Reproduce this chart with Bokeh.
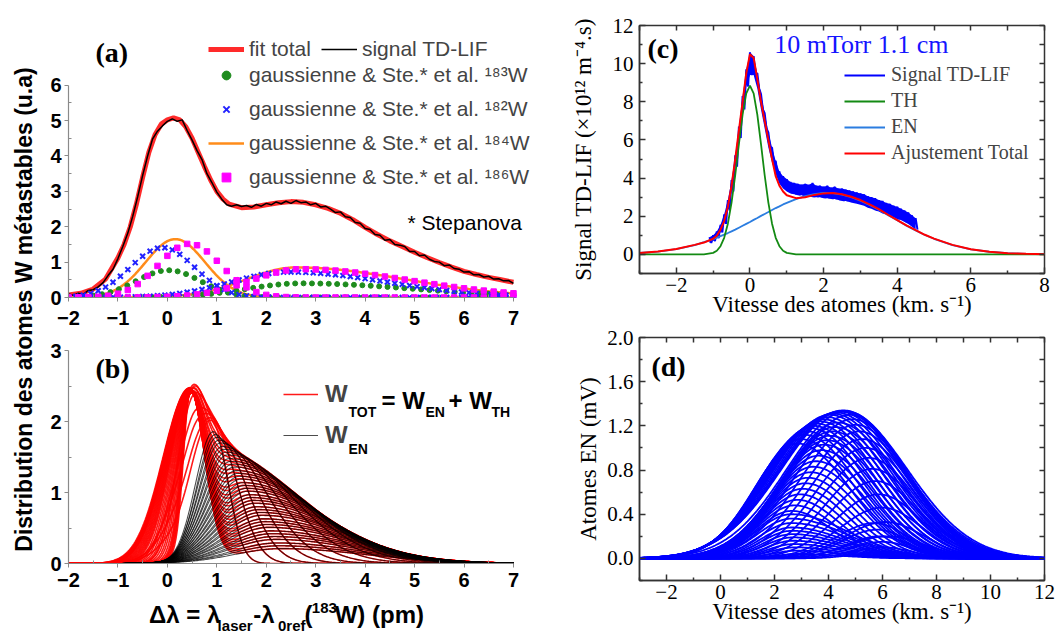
import numpy as np
from bokeh.plotting import figure
from bokeh.layouts import row, column
from bokeh.models import (Label, Range1d, LinearAxis, FixedTicker, Legend, LegendItem,
                          NumeralTickFormatter)
from bokeh.core.properties import value
from bokeh.embed import file_html
from bokeh.resources import INLINE

SANS = "Liberation Sans"
SERIF = "Liberation Serif"

# ================= DATA =================
# ---- panel (a): TD-LIF signal and total fit (pm, u.a.)
a_fit_x = [-2.0, -1.75, -1.5, -1.25, -1.0, -0.875, -0.75, -0.625, -0.5, -0.375, -0.25, -0.125, 0.0,
           0.125, 0.25, 0.375, 0.5, 0.625, 0.75, 0.875, 1.0, 1.125, 1.25, 1.5, 1.75, 2.0, 2.25, 2.5,
           2.75, 3.0, 3.25, 3.5, 3.75, 4.0, 4.25, 4.5, 4.75, 5.0, 5.25, 5.5, 5.75, 6.0, 6.25, 6.5, 6.75, 7.0]
a_fit_y = [0.07, 0.12, 0.24, 0.52, 1.12, 1.5, 2.0, 2.65, 3.4, 4.1, 4.6, 4.9, 5.02,
           5.08, 5.02, 4.82, 4.5, 4.1, 3.7, 3.32, 3.0, 2.78, 2.64, 2.54, 2.56, 2.62, 2.68, 2.71,
           2.69, 2.62, 2.52, 2.38, 2.2, 1.98, 1.78, 1.6, 1.44, 1.28, 1.13, 0.99, 0.86, 0.74, 0.65, 0.57, 0.5, 0.43]
a_sig_x = np.round(np.linspace(-2.0, 7.0, 91), 2)
a_sig_y = [0.10, 0.06, 0.12, 0.09, 0.2, 0.22, 0.3, 0.42, 0.62, 0.8,
           1.1, 1.45, 1.82, 2.3, 2.85, 3.45, 4.0, 4.48, 4.7, 4.85,
           4.98, 5.05, 4.98, 5.02, 4.72, 4.45, 4.15, 3.9, 3.5, 3.25,
           2.98, 2.78, 2.62, 2.58, 2.62, 2.57, 2.6, 2.55, 2.63, 2.58,
           2.66, 2.62, 2.7, 2.65, 2.72, 2.66, 2.74, 2.68, 2.7, 2.62,
           2.66, 2.56, 2.58, 2.5, 2.4, 2.42, 2.28, 2.26, 2.12, 2.1,
           1.95, 1.92, 1.78, 1.76, 1.62, 1.64, 1.5, 1.48, 1.44, 1.3,
           1.3, 1.18, 1.2, 1.08, 1.02, 1.0, 0.9, 0.92, 0.82, 0.8,
           0.72, 0.73, 0.64, 0.65, 0.58, 0.6, 0.52, 0.53, 0.47, 0.48,
           0.4]
# gaussian components (isotopes 183, 182, 184, 186)
a_iso = ["183", "182", "184", "186"]
a_th_c = [0.02, -0.1, 0.16, 0.45]
a_th_h = [0.77, 1.41, 1.65, 1.52]
a_th_s = [0.65, 0.65, 0.6, 0.63]
a_en_c = [2.7, 2.45, 2.6, 2.7]
a_en_h = [0.40, 0.72, 0.85, 0.80]
a_en_sl = [1.1, 1.15, 1.0, 1.0]
a_en_sr = [2.3, 2.0, 2.2, 2.2]

# ---- panel (b): family W_EN (black) and W_TOT = W_EN + W_TH (red)
b_en_c = [0.93, 0.97, 1.0, 1.04, 1.07, 1.11, 1.14, 1.18, 1.21, 1.25, 1.28, 1.32, 1.35, 1.39, 1.42, 1.46,
          1.49, 1.53, 1.56, 1.6, 1.63, 1.67, 1.7, 1.74, 1.77, 1.81, 1.84, 1.88, 1.91, 1.95, 1.98, 2.02,
          2.05, 2.09, 2.12, 2.16, 2.19, 2.23, 2.26, 2.3]
b_en_h = [1.86, 1.82, 1.78, 1.74, 1.7, 1.65, 1.61, 1.57, 1.53, 1.48, 1.44, 1.4, 1.36, 1.31, 1.27, 1.23,
          1.19, 1.14, 1.1, 1.06, 1.02, 0.97, 0.93, 0.89, 0.85, 0.8, 0.76, 0.72, 0.68, 0.63, 0.59, 0.55,
          0.51, 0.46, 0.42, 0.38, 0.34, 0.29, 0.25, 0.21]
b_en_sl = [0.36, 0.37, 0.39, 0.4, 0.42, 0.43, 0.45, 0.46, 0.48, 0.49, 0.51, 0.52, 0.54, 0.55, 0.57, 0.58,
           0.6, 0.61, 0.63, 0.64, 0.66, 0.67, 0.69, 0.7, 0.72, 0.73, 0.75, 0.76, 0.78, 0.79, 0.81, 0.82,
           0.84, 0.85, 0.87, 0.88, 0.9, 0.91, 0.93, 0.94]
b_en_sr = [0.3, 0.45, 0.6, 0.75, 0.9, 1.05, 1.2, 1.32, 1.42, 1.48, 1.5, 1.52, 1.53, 1.54, 1.55, 1.56,
           1.57, 1.58, 1.59, 1.6, 1.6, 1.61, 1.61, 1.62, 1.62, 1.63, 1.63, 1.64, 1.64, 1.65, 1.65, 1.66,
           1.66, 1.67, 1.67, 1.68, 1.68, 1.69, 1.69, 1.7]
b_th_c = 0.45
b_th_sr = 0.3
b_th_h = [0.5, 0.8, 1.1, 1.4, 1.7, 1.9, 1.95, 1.97, 1.98, 2.0, 2.02, 2.04, 2.06, 2.08, 2.1, 2.12,
          2.14, 2.16, 2.18, 2.2, 2.22, 2.24, 2.26, 2.28, 2.3, 2.31, 2.32, 2.33, 2.34, 2.35, 2.36, 2.37,
          2.38, 2.39, 2.4, 2.41, 2.42, 2.43, 2.44, 2.45]
b_th_sl = [0.5, 0.48, 0.45, 0.4, 0.3, 0.13, 0.14, 0.15, 0.16, 0.17, 0.18, 0.2, 0.22, 0.24, 0.26, 0.28,
           0.3, 0.32, 0.34, 0.36, 0.38, 0.4, 0.41, 0.42, 0.43, 0.44, 0.45, 0.46, 0.47, 0.48, 0.49, 0.5,
           0.5, 0.51, 0.51, 0.52, 0.52, 0.53, 0.53, 0.54]

# ---- panel (c): velocity distribution (km/s, 1e12 m^-4 s)
c_x = [-3.0, -2.5, -2.0, -1.5, -1.25, -1.0, -0.9, -0.8, -0.7, -0.6, -0.5, -0.4, -0.3, -0.2, -0.1,
       0.0, 0.1, 0.2, 0.3, 0.4, 0.5, 0.6, 0.7, 0.8, 0.9, 1.0, 1.25, 1.5, 1.75, 2.0, 2.25, 2.5, 2.75,
       3.0, 3.25, 3.5, 3.75, 4.0, 4.25, 4.5, 4.75, 5.0, 5.5, 6.0, 6.5, 7.0, 7.5, 8.0]
c_th = [0, 0, 0, 0, 0.005, 0.08, 0.19, 0.43, 0.87, 1.61, 2.72, 4.15, 5.78, 7.33, 8.44,
        8.85, 8.44, 7.33, 5.78, 4.15, 2.72, 1.61, 0.87, 0.43, 0.19, 0.08, 0.005, 0, 0, 0, 0, 0, 0,
        0, 0, 0, 0, 0, 0, 0, 0, 0, 0, 0, 0, 0, 0, 0]
c_en = [0.075, 0.15, 0.28, 0.49, 0.64, 0.80, 0.88, 0.96, 1.04, 1.12, 1.21, 1.30, 1.40, 1.50, 1.60,
        1.70, 1.81, 1.91, 2.02, 2.12, 2.22, 2.33, 2.43, 2.52, 2.62, 2.70, 2.90, 3.06, 3.16, 3.22, 3.21, 3.14, 3.00,
        2.82, 2.59, 2.34, 2.06, 1.79, 1.51, 1.26, 1.02, 0.82, 0.49, 0.27, 0.14, 0.064, 0.028, 0.011]
c_tot = [0.08, 0.15, 0.28, 0.5, 0.62, 0.82, 0.98, 1.3, 1.75, 2.5, 3.6, 5.0, 6.5, 8.0, 9.5,
         10.5, 10.3, 9.2, 8.0, 7.0, 6.0, 5.0, 4.1, 3.6, 3.3, 3.1, 2.95, 3.0, 3.12, 3.2, 3.22, 3.15, 3.02,
         2.85, 2.62, 2.37, 2.08, 1.8, 1.52, 1.27, 1.03, 0.83, 0.5, 0.27, 0.14, 0.065, 0.03, 0.01]
c_sig_x = np.round(np.linspace(-1.1, 4.5, 57), 2)
c_sig_hi = [0.9, 1.0, 1.2, 1.55, 2.1, 2.85, 3.9, 5.2, 6.7, 8.3, 9.7, 10.6, 10.4, 9.5, 8.4, 7.4, 6.4, 5.6, 4.9,
            4.35, 4.1, 3.95, 3.8, 3.75, 3.7, 3.65, 3.7, 3.65, 3.75, 3.6, 3.6, 3.55, 3.6, 3.5, 3.55, 3.45, 3.45,
            3.4, 3.35, 3.3, 3.25, 3.2, 3.15, 3.05, 3.0, 2.95, 2.85, 2.8, 2.7, 2.65, 2.55, 2.5, 2.4, 2.3, 2.2, 2.05, 1.9]
c_sig_lo = [0.6, 0.7, 0.85, 1.15, 1.6, 2.3, 3.3, 4.6, 6.1, 7.6, 8.8, 9.4, 9.4, 8.7, 7.6, 6.6, 5.6, 4.8, 4.2,
            3.7, 3.45, 3.3, 3.2, 3.15, 3.1, 3.1, 3.05, 3.05, 3.0, 3.0, 3.0, 2.95, 2.95, 2.9, 2.9, 2.85, 2.8,
            2.8, 2.75, 2.7, 2.65, 2.6, 2.55, 2.45, 2.4, 2.3, 2.25, 2.15, 2.1, 2.0, 1.95, 1.85, 1.8, 1.7, 1.6, 1.45, 1.3]

# ---- panel (d): family of EN distributions (km/s, mV), groups of curves
dA_c = [2.85, 2.97, 3.09, 3.21, 3.33, 3.45, 3.57, 3.69, 3.81, 3.93, 4.05, 4.17, 4.29, 4.4, 4.48, 4.55]
dA_h = [1.04, 1.08, 1.12, 1.15, 1.18, 1.2, 1.22, 1.24, 1.26, 1.28, 1.3, 1.31, 1.32, 1.33, 1.335, 1.34]
dA_sl = [1.6, 1.65, 1.7, 1.75, 1.8, 1.85, 1.9, 1.95, 2.0, 2.05, 2.1, 2.14, 2.18, 2.22, 2.25, 2.28]
dA_sr = [1.95, 1.98, 2.02, 2.05, 2.08, 2.11, 2.14, 2.17, 2.2, 2.22, 2.25, 2.27, 2.29, 2.31, 2.33, 2.35]
dB_c = [4.65, 4.78, 4.9, 5.02, 5.14, 5.26, 5.38, 5.5, 5.62, 5.74, 5.86, 5.98, 6.1, 6.2]
dB_h = [1.33, 1.3, 1.26, 1.21, 1.15, 1.08, 1.0, 0.91, 0.81, 0.7, 0.58, 0.46, 0.33, 0.2]
dB_sl = [2.2, 2.14, 2.08, 2.02, 1.96, 1.9, 1.84, 1.78, 1.72, 1.66, 1.6, 1.54, 1.48, 1.42]
dB_sr = [2.2, 2.12, 2.05, 1.98, 1.92, 1.86, 1.8, 1.74, 1.68, 1.62, 1.56, 1.5, 1.45, 1.4]
dC_c = [2.64, 2.74, 2.84, 2.94, 3.04, 3.14, 3.24, 3.34, 3.44, 3.54, 3.64, 3.74, 3.84, 3.94, 4.04, 4.14, 4.24, 4.34]
dC_h = [0.43, 0.48, 0.53, 0.58, 0.63, 0.68, 0.73, 0.78, 0.83, 0.88, 0.93, 0.98, 1.03, 1.07, 1.11, 1.15, 1.19, 1.23]
dC_sl = [1.3, 1.34, 1.38, 1.42, 1.46, 1.5, 1.54, 1.58, 1.62, 1.66, 1.7, 1.74, 1.78, 1.82, 1.86, 1.9, 1.94, 1.98]
dC_sr = [1.5, 1.54, 1.58, 1.62, 1.66, 1.7, 1.74, 1.78, 1.82, 1.86, 1.9, 1.94, 1.98, 2.02, 2.06, 2.1, 2.14, 2.18]
dD_c = [2.62, 2.62, 2.63, 2.64, 2.65, 2.66, 2.68, 2.7, 2.73, 2.77, 2.82, 2.9]
dD_h = [0.4, 0.36, 0.32, 0.28, 0.25, 0.22, 0.19, 0.16, 0.13, 0.1, 0.07, 0.04]
dD_sl = [1.3, 1.26, 1.22, 1.18, 1.14, 1.1, 1.06, 1.02, 0.98, 0.94, 0.9, 0.86]
dD_sr = [2.1, 2.05, 2.0, 1.95, 1.9, 1.85, 1.8, 1.75, 1.7, 1.65, 1.6, 1.55]
dE_c = [5.7, 5.8, 5.9, 6.0, 6.05, 6.1]
dE_h = [0.32, 0.26, 0.2, 0.15, 0.1, 0.06]
dE_sl = [1.4, 1.3, 1.25, 1.2, 1.15, 1.1]
dE_sr = [1.25, 1.2, 1.15, 1.1, 1.05, 1.0]


def agauss(x, c, h, sl, sr):
    x = np.asarray(x, dtype=float)
    s = np.where(x < c, sl, sr)
    return h * np.exp(-0.5 * ((x - c) / s) ** 2)


# ================= GEOMETRY (page pixels, frame left / bottom, scales) =================
GL = dict(fl=0, fb=633, x0=0, sx=1.0, y0=0, sy=1.0)      # left label strip
GX = dict(fl=40, fb=633, x0=0, sx=1.0, y0=0, sy=1.0)     # strip below (b)
GA = dict(fl=68, fb=297, x0=-2, sx=49.44, y0=0, sy=35.38)
GB = dict(fl=68, fb=563, x0=-2, sx=49.44, y0=0, sy=70.9)
GC = dict(fl=638, fb=273, x0=-3, sx=406 / 11, y0=-1, sy=248 / 13)
GD = dict(fl=639, fb=580, x0=-3, sx=407 / 15, y0=-0.2, sy=243 / 2.2)


def pos(g, px, py):
    return g["x0"] + (px - g["fl"]) / g["sx"], g["y0"] + (g["fb"] - py) / g["sy"]


def lab(p, g, px, py, text, size, font=SANS, style="normal", color="black", align="left", angle=0.0):
    x, y = pos(g, px, py)
    p.add_layout(Label(x=x, y=y, text=text, text_font=font, text_font_size=size,
                       text_font_style=style, text_color=color, text_align=align,
                       text_baseline="middle", angle=angle))


def base_fig(w, h, l, r, t, b, xr, yr, outline=None):
    p = figure(width=w, height=h, x_range=Range1d(*xr), y_range=Range1d(*yr),
               min_border_left=l, min_border_right=r, min_border_top=t, min_border_bottom=b,
               toolbar_location=None, output_backend="svg", outline_line_color=outline)
    p.grid.visible = False
    p.background_fill_color = "white"
    p.border_fill_color = "white"
    return p


def strip_fig(w, h):
    p = figure(width=w, height=h, x_range=Range1d(0, w), y_range=Range1d(0, h),
               min_border=0, toolbar_location=None, output_backend="svg",
               x_axis_location=None, y_axis_location=None, outline_line_color=None)
    p.grid.visible = False
    return p


def style_legend(lg, font, size, gw, gh, standoff, spacing, bold=False):
    lg.label_text_font = font
    lg.label_text_font_size = size
    if bold:
        lg.label_text_font_style = "bold"
    lg.glyph_width = gw
    lg.glyph_height = gh
    lg.label_height = gh
    lg.label_standoff = standoff
    lg.spacing = spacing
    lg.padding = 0
    lg.margin = 0
    lg.border_line_color = None
    lg.background_fill_alpha = 0


# ================= LEFT LABEL STRIP =================
pL = strip_fig(40, 633)
lab(pL, GL, 23, 309, "Distribution des atomes W métastables (u.a)", "23px", style="bold",
    align="center", angle=np.pi / 2)


def style_ab(p, ymax, xstand):
    p.xaxis.bounds = (-2, 7)
    p.xaxis.ticker = FixedTicker(ticks=list(range(-2, 8)), minor_ticks=[v + 0.5 for v in range(-2, 7)])
    p.yaxis.bounds = (0, ymax)
    p.yaxis.ticker = FixedTicker(ticks=list(range(0, ymax + 1)), minor_ticks=[v + 0.5 for v in range(0, ymax)])
    for ax in (p.xaxis, p.yaxis):
        ax.axis_line_color = "#8a8a8a"
        ax.axis_line_width = 1.2
        ax.major_tick_line_color = "#8a8a8a"
        ax.minor_tick_line_color = "#8a8a8a"
        ax.major_tick_in = 0
        ax.major_tick_out = 4
        ax.minor_tick_in = 3
        ax.minor_tick_out = 0
        ax.major_label_text_font = SANS
        ax.major_label_text_font_style = "bold"
        ax.major_label_text_font_size = "20px"
        ax.major_label_text_color = "black"
    p.yaxis.major_label_standoff = 3
    p.xaxis.major_label_standoff = xstand


# ================= PANEL (a) =================
pA = base_fig(505, 338, 28, 15, 12, 41, (-2, -2 + 462 / 49.44), (0, 285 / 35.38))
style_ab(pA, 6, 9)
r_fit = pA.line(a_fit_x, a_fit_y, line_color="#ff2a2a", line_width=5)
r_sig = pA.line(a_sig_x, a_sig_y, line_color="black", line_width=1.5)

xa_line = np.linspace(-2, 7, 361)
g_green = np.linspace(-2, 7, 54)
g_blue = np.linspace(-2, 7, 61)
g_mag = np.linspace(-2, 7, 46)
r_orange = pA.line(xa_line, agauss(xa_line, a_th_c[2], a_th_h[2], a_th_s[2], a_th_s[2]),
                   line_color="#ff8c1a", line_width=2.5)
pA.line(xa_line, agauss(xa_line, a_en_c[2], a_en_h[2], a_en_sl[2], a_en_sr[2]),
        line_color="#ff8c1a", line_width=2.5)
r_green = pA.scatter(g_green, agauss(g_green, a_th_c[0], a_th_h[0], a_th_s[0], a_th_s[0]),
                     marker="circle", size=5, color="#1e8c1e")
pA.scatter(g_green, agauss(g_green, a_en_c[0], a_en_h[0], a_en_sl[0], a_en_sr[0]),
           marker="circle", size=5, color="#1e8c1e")
r_blue = pA.scatter(g_blue, agauss(g_blue, a_th_c[1], a_th_h[1], a_th_s[1], a_th_s[1]),
                    marker="x", size=7, line_width=2, line_color="#2222ff")
pA.scatter(g_blue, agauss(g_blue, a_en_c[1], a_en_h[1], a_en_sl[1], a_en_sr[1]),
           marker="x", size=7, line_width=2, line_color="#2222ff")
r_mag = pA.scatter(g_mag, agauss(g_mag, a_th_c[3], a_th_h[3], a_th_s[3], a_th_s[3]),
                   marker="square", size=5.5, color="#ff00ff")
pA.scatter(g_mag, agauss(g_mag, a_en_c[3], a_en_h[3], a_en_sl[3], a_en_sr[3]),
           marker="square", size=5.5, color="#ff00ff")

sup = {"183": "¹⁸³", "182": "¹⁸²", "184": "¹⁸⁴", "186": "¹⁸⁶"}
leg1 = Legend(items=[LegendItem(label=value("fit total"), renderers=[r_fit]),
                     LegendItem(label=value("signal TD-LIF"), renderers=[r_sig])],
              location=(140, 236), orientation="horizontal")
leg2 = Legend(items=[LegendItem(label=value("gaussienne & Ste.* et al. " + sup[a_iso[0]] + "W"), renderers=[r_green]),
                     LegendItem(label=value("gaussienne & Ste.* et al. " + sup[a_iso[1]] + "W"), renderers=[r_blue]),
                     LegendItem(label=value("gaussienne & Ste.* et al. " + sup[a_iso[2]] + "W"), renderers=[r_orange]),
                     LegendItem(label=value("gaussienne & Ste.* et al. " + sup[a_iso[3]] + "W"), renderers=[r_mag])],
              location=(140, 108), orientation="vertical")
for lg in (leg1, leg2):
    style_legend(lg, SANS, "21px", 36, 22, 5, 10)
    pA.add_layout(lg)
lab(pA, GA, 95, 52, "(a)", "28px", font=SERIF, style="bold")
lab(pA, GA, 407, 222, "* Stepanova", "21px")

# ================= PANEL (b) =================
pB = base_fig(505, 259, 28, 15, 2, 34, (-2, -2 + 462 / 49.44), (0, 223 / 70.9))
style_ab(pB, 3, 5)
xb = np.linspace(-2, 7, 361)
en_ys = [agauss(xb, c, h, sl, sr) for c, h, sl, sr in zip(b_en_c, b_en_h, b_en_sl, b_en_sr)]
tot_ys = [en + agauss(xb, b_th_c, h, sl, b_th_sr) for en, h, sl in zip(en_ys, b_th_h, b_th_sl)]
r_red = pB.multi_line([xb] * len(tot_ys), tot_ys, line_color="#ff0000", line_alpha=0.9, line_width=1.6)
r_blk = pB.multi_line([xb] * len(en_ys), en_ys, line_color="#000000", line_alpha=0.7, line_width=1.1)
legB = Legend(items=[LegendItem(label=value("W"), renderers=[r_red]),
                     LegendItem(label=value("W"), renderers=[r_blk])],
              location=(215, 114), orientation="vertical")
style_legend(legB, SANS, "24px", 35, 24, 7, 13, bold=True)
pB.add_layout(legB)
lab(pB, GB, 348, 411, "TOT", "14px", style="bold")
lab(pB, GB, 381, 400, "= W", "24px", style="bold")
lab(pB, GB, 425, 411, "EN", "14px", style="bold")
lab(pB, GB, 448, 400, "+ W", "24px", style="bold")
lab(pB, GB, 491, 411, "TH", "14px", style="bold")
lab(pB, GB, 348, 448, "EN", "14px", style="bold")
lab(pB, GB, 95, 368, "(b)", "28px", font=SERIF, style="bold")

# x-axis title of (b), drawn in a strip below it
pBx = strip_fig(505, 36)
lab(pBx, GX, 128, 614, "Δλ = λ", "24px", style="bold")
lab(pBx, GX, 203, 625, "laser", "15px", style="bold")
lab(pBx, GX, 242, 614, "-λ", "24px", style="bold")
lab(pBx, GX, 269, 625, "0ref", "15px", style="bold")
lab(pBx, GX, 298, 614, "(", "24px", style="bold")
lab(pBx, GX, 306, 607, "183", "15px", style="bold")
lab(pBx, GX, 331, 614, "W) (pm)", "24px", style="bold")


# ================= PANELS (c) (d) =================
def style_cd(p, xt, xm, yt, ym, xlabel, ylabel, ystand):
    tick_all_x = sorted(xt + xm)
    tick_all_y = sorted(yt + ym)
    p.add_layout(LinearAxis(ticker=FixedTicker(ticks=[], minor_ticks=tick_all_x), axis_line_color=None,
                            minor_tick_in=5, minor_tick_out=0, minor_tick_line_color="#333333",
                            minor_tick_line_width=1.5), "above")
    p.add_layout(LinearAxis(ticker=FixedTicker(ticks=[], minor_ticks=tick_all_y), axis_line_color=None,
                            minor_tick_in=5, minor_tick_out=0, minor_tick_line_color="#333333",
                            minor_tick_line_width=1.5), "right")
    bx, ly = p.below[0], p.left[0]
    bx.ticker = FixedTicker(ticks=xt, minor_ticks=xm)
    ly.ticker = FixedTicker(ticks=yt, minor_ticks=ym)
    for ax in (bx, ly):
        ax.axis_line_color = "#333333"
        ax.axis_line_width = 1.5
        ax.major_tick_line_color = "#333333"
        ax.minor_tick_line_color = "#333333"
        ax.major_tick_line_width = 1.5
        ax.minor_tick_line_width = 1.5
        ax.major_tick_in = 6
        ax.major_tick_out = 0
        ax.minor_tick_in = 3
        ax.minor_tick_out = 0
        ax.major_label_text_font = SERIF
        ax.major_label_text_font_size = "21px"
        ax.major_label_text_color = "black"
        ax.axis_label_text_font = SERIF
        ax.axis_label_text_font_size = "23px"
        ax.axis_label_text_font_style = "normal"
        ax.axis_label_text_color = "black"
    bx.major_label_standoff = 4
    ly.major_label_standoff = 6
    bx.axis_label = xlabel
    bx.axis_label_standoff = -3
    ly.axis_label = ylabel
    ly.axis_label_standoff = ystand


pC = base_fig(512, 325, 93, 13, 25, 52, (-3, 8), (-1, 12), outline="#333333")
pC.outline_line_width = 1.5
style_cd(pC, [-2, 0, 2, 4, 6, 8], [-3, -1, 1, 3, 5, 7], list(range(0, 13, 2)), list(range(-1, 13, 2)),
         "Vitesse des atomes (km. s⁻¹)", "Signal TD-LIF (×10¹² m⁻⁴.s)", 14)
zx, zy = [], []
for xv, hi, lo in zip(c_sig_x, c_sig_hi, c_sig_lo):
    zx += [xv, xv + 0.05]
    zy += [hi, lo]
pC.varea(x=c_sig_x, y1=c_sig_lo, y2=c_sig_hi, fill_color="#0000ff")
r_csig = pC.line(zx, zy, line_color="#0000ff", line_width=2)
r_cen = pC.line(c_x, c_en, line_color="#2b7de0", line_width=1.8)
r_cth = pC.line(c_x, c_th, line_color="#138a13", line_width=1.8)
r_ctot = pC.line(c_x, c_tot, line_color="#ff0000", line_width=2)
legC = Legend(items=[LegendItem(label=value("Signal TD-LIF"), renderers=[r_csig]),
                     LegendItem(label=value("TH"), renderers=[r_cth]),
                     LegendItem(label=value("EN"), renderers=[r_cen]),
                     LegendItem(label=value("Ajustement Total"), renderers=[r_ctot])],
              location=(205, 109), orientation="vertical")
style_legend(legC, SERIF, "20px", 41, 20, 6, 3)
pC.add_layout(legC)
lab(pC, GC, 646, 48, "(c)", "28px", font=SERIF, style="bold")
lab(pC, GC, 773, 44, "10 mTorr 1.1 cm", "26px", font=SERIF, color="#1515ff")

pD = base_fig(512, 308, 94, 11, 12, 53, (-3, 12), (-0.2, 2.0), outline="#333333")
pD.outline_line_width = 1.5
style_cd(pD, [-2, 0, 2, 4, 6, 8, 10, 12], [-3, -1, 1, 3, 5, 7, 9, 11],
         [0.0, 0.4, 0.8, 1.2, 1.6, 2.0], [-0.2, 0.2, 0.6, 1.0, 1.4, 1.8],
         "Vitesse des atomes (km. s⁻¹)", "Atomes EN (mV)", 3)
pD.left[0].formatter = NumeralTickFormatter(format="0.0")
xd = np.linspace(-3, 12, 301)
d_ys = []
for cs, hs, sls, srs in ((dA_c, dA_h, dA_sl, dA_sr), (dB_c, dB_h, dB_sl, dB_sr), (dC_c, dC_h, dC_sl, dC_sr),
                         (dD_c, dD_h, dD_sl, dD_sr), (dE_c, dE_h, dE_sl, dE_sr)):
    for c, h, sl, sr in zip(cs, hs, sls, srs):
        d_ys.append(agauss(xd, c, h, sl, sr))
pD.multi_line([xd] * len(d_ys), d_ys, line_color="#0000ff", line_width=1.8)
lab(pD, GD, 651, 366, "(d)", "28px", font=SERIF, style="bold")

layout = row(pL, column(pA, pB, pBx), column(pC, pD))
open("out.html", "w").write(file_html(layout, INLINE))
